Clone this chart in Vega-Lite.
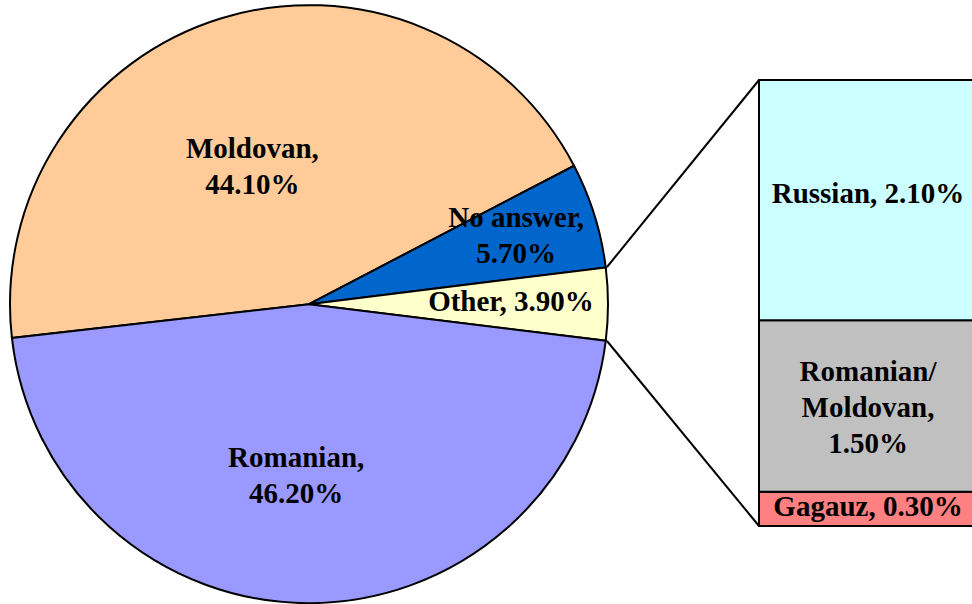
{
  "$schema": "https://vega.github.io/schema/vega-lite/v6.json",
  "width": 972,
  "height": 604,
  "padding": 0,
  "autosize": {"type": "none"},
  "background": "white",
  "config": {
    "view": {"stroke": null},
    "text": {"font": "Liberation Serif", "fontWeight": "bold", "fontSize": 29, "lineHeight": 36, "lineBreak": "\n", "color": "black"}
  },
  "datasets": {
    "pie": [
      {"lang": "Moldovan", "value": 44.1, "label": "Moldovan,\n44.10%"},
      {"lang": "No answer", "value": 5.7, "label": "No answer,\n5.70%"},
      {"lang": "Other", "value": 3.9, "label": "Other, 3.90%"},
      {"lang": "Romanian", "value": 46.2, "label": "Romanian,\n46.20%"}
    ],
    "bar": [
      {"lang": "Gagauz", "value": 0.3, "label": "Gagauz, 0.30%"},
      {"lang": "Romanian/Moldovan", "value": 1.5, "label": "Romanian/\nMoldovan,\n1.50%"},
      {"lang": "Russian", "value": 2.1, "label": "Russian, 2.10%"}
    ]
  },
  "layer": [
    {
      "data": {"name": "pie"},
      "mark": {"type": "arc", "radius": 299, "stroke": "black", "strokeWidth": 2},
      "encoding": {
        "x": {"datum": 0, "type": "quantitative", "scale": {"domain": [-1.03344, 2.21739], "nice": false, "zero": false, "padding": 0}, "axis": null},
        "y": {"datum": 1.94, "type": "quantitative", "scale": {"domain": [-0.6821, 4.5996], "nice": false, "zero": false, "padding": 0}, "axis": null},
        "theta": {"field": "value", "type": "quantitative", "stack": true, "scale": {"range": [4.5991, 10.8823]}},
        "color": {
          "field": "lang", "type": "nominal", "legend": null,
          "scale": {
            "domain": ["Moldovan", "No answer", "Other", "Romanian", "Russian", "Romanian/Moldovan", "Gagauz"],
            "range": ["#FFCC99", "#0066CC", "#FFFFCC", "#9999FF", "#CCFFFF", "#C0C0C0", "#FF8080"]
          }
        },
        "order": {"field": "lang", "type": "ordinal", "sort": "ascending"}
      }
    },
    {
      "data": {"values": [{}]},
      "mark": {"type": "rule", "strokeWidth": 2, "color": "black"},
      "encoding": {
        "x": {"datum": 0.9967, "type": "quantitative", "axis": null},
        "y": {"datum": 2.2648, "type": "quantitative", "axis": null},
        "x2": {"datum": 1.505},
        "y2": {"datum": 3.9}
      }
    },
    {
      "data": {"values": [{}]},
      "mark": {"type": "rule", "strokeWidth": 2, "color": "black"},
      "encoding": {
        "x": {"datum": 0.9967, "type": "quantitative", "axis": null},
        "y": {"datum": 1.6177, "type": "quantitative", "axis": null},
        "x2": {"datum": 1.505},
        "y2": {"datum": 0}
      }
    },
    {
      "data": {"name": "bar"},
      "mark": {"type": "bar", "orient": "vertical", "stroke": "black", "strokeWidth": 2, "clip": true},
      "encoding": {
        "x": {"datum": 1.505, "type": "quantitative", "axis": null},
        "x2": {"datum": 2.2342},
        "y": {"field": "value", "type": "quantitative", "stack": "zero", "axis": null},
        "color": {"field": "lang", "type": "nominal", "legend": null},
        "order": {"field": "lang", "type": "ordinal", "sort": "ascending"}
      }
    },
    {
      "data": {"name": "bar"},
      "mark": {"type": "text", "dy": -6},
      "encoding": {
        "x": {"datum": 1.8696, "type": "quantitative", "axis": null},
        "y": {"field": "value", "type": "quantitative", "stack": "zero", "bandPosition": 0.5, "axis": null},
        "detail": {"field": "lang", "type": "nominal"},
        "order": {"field": "lang", "type": "ordinal", "sort": "ascending"},
        "text": {"condition": {"test": "datum.lang === 'Russian'", "field": "label", "type": "nominal"}, "value": ""}
      }
    },
    {
      "data": {"name": "bar"},
      "mark": {"type": "text", "dy": -34},
      "encoding": {
        "x": {"datum": 1.8696, "type": "quantitative", "axis": null},
        "y": {"field": "value", "type": "quantitative", "stack": "zero", "bandPosition": 0.5, "axis": null},
        "detail": {"field": "lang", "type": "nominal"},
        "order": {"field": "lang", "type": "ordinal", "sort": "ascending"},
        "text": {"condition": {"test": "datum.lang === 'Romanian/Moldovan'", "field": "label", "type": "nominal"}, "value": ""}
      }
    },
    {
      "data": {"name": "bar"},
      "mark": {"type": "text", "dy": -2},
      "encoding": {
        "x": {"datum": 1.8696, "type": "quantitative", "axis": null},
        "y": {"field": "value", "type": "quantitative", "stack": "zero", "bandPosition": 0.5, "axis": null},
        "detail": {"field": "lang", "type": "nominal"},
        "order": {"field": "lang", "type": "ordinal", "sort": "ascending"},
        "text": {"condition": {"test": "datum.lang === 'Gagauz'", "field": "label", "type": "nominal"}, "value": ""}
      }
    },
    {
      "data": {"name": "pie"},
      "mark": {"type": "text", "radius": 149, "dx": -13, "dy": -13},
      "encoding": {
        "x": {"datum": 0, "type": "quantitative", "axis": null},
        "y": {"datum": 1.94, "type": "quantitative", "axis": null},
        "theta": {"field": "value", "type": "quantitative", "stack": true},
        "detail": {"field": "lang", "type": "nominal"},
        "order": {"field": "lang", "type": "ordinal", "sort": "ascending"},
        "text": {"condition": {"test": "datum.lang === 'Moldovan'", "field": "label", "type": "nominal"}, "value": ""}
      }
    },
    {
      "data": {"name": "pie"},
      "mark": {"type": "text", "radius": 172, "dx": -12, "dy": -18},
      "encoding": {
        "x": {"datum": 0, "type": "quantitative", "axis": null},
        "y": {"datum": 1.94, "type": "quantitative", "axis": null},
        "theta": {"field": "value", "type": "quantitative", "stack": true},
        "detail": {"field": "lang", "type": "nominal"},
        "order": {"field": "lang", "type": "ordinal", "sort": "ascending"},
        "text": {"condition": {"test": "datum.lang === 'Romanian'", "field": "label", "type": "nominal"}, "value": ""}
      }
    },
    {
      "data": {"name": "pie"},
      "mark": {"type": "text", "radius": 217, "dy": -22},
      "encoding": {
        "x": {"datum": 0, "type": "quantitative", "axis": null},
        "y": {"datum": 1.94, "type": "quantitative", "axis": null},
        "theta": {"field": "value", "type": "quantitative", "stack": true},
        "detail": {"field": "lang", "type": "nominal"},
        "order": {"field": "lang", "type": "ordinal", "sort": "ascending"},
        "text": {"condition": {"test": "datum.lang === 'No answer'", "field": "label", "type": "nominal"}, "value": ""}
      }
    },
    {
      "data": {"name": "pie"},
      "mark": {"type": "text", "radius": 202, "dy": -2},
      "encoding": {
        "x": {"datum": 0, "type": "quantitative", "axis": null},
        "y": {"datum": 1.94, "type": "quantitative", "axis": null},
        "theta": {"field": "value", "type": "quantitative", "stack": true},
        "detail": {"field": "lang", "type": "nominal"},
        "order": {"field": "lang", "type": "ordinal", "sort": "ascending"},
        "text": {"condition": {"test": "datum.lang === 'Other'", "field": "label", "type": "nominal"}, "value": ""}
      }
    }
  ]
}
